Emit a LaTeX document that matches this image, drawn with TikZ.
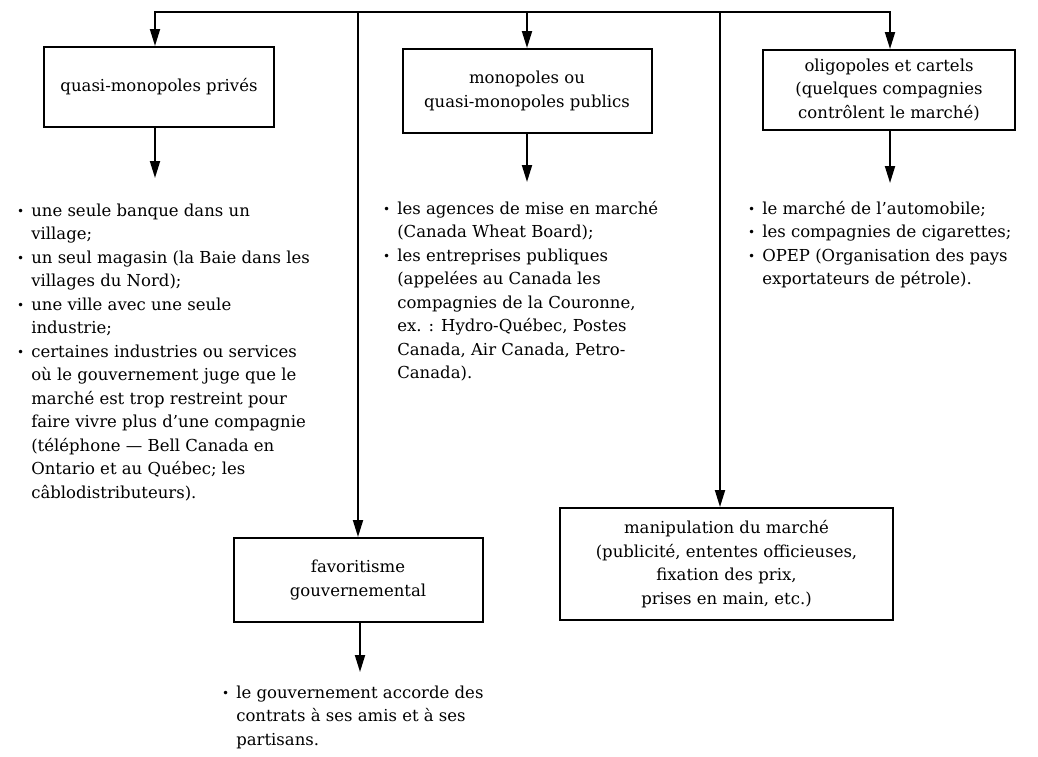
\documentclass[tikz,border=0pt]{standalone}
\usepackage{fontspec}
\setmainfont{DejaVu Serif}
\usetikzlibrary{arrows.meta}
\newcommand\fsz{\fontsize{16.5}{23.5}\selectfont}
\newcommand\bl{\raisebox{0.6pt}{\fontsize{12}{12}\selectfont\textbullet}}
\begin{document}
\begin{tikzpicture}[x=1pt,y=-1pt,
  box/.style={draw, line width=2pt, inner sep=0pt, align=center, font=\fsz},
  conn/.style={line width=1.9pt},
  tip/.style={-{Triangle[length=17pt,width=10pt]}},
  arr/.style={conn, tip},
  blist/.style={inner sep=0pt, anchor=base west, font=\fsz}]
\useasboundingbox (0,0) rectangle (1038,756);

% boxes
\node[box, minimum width=230pt, minimum height=80pt] (b1) at (159,87) {quasi-monopoles privés};
\node[box, minimum width=249pt, minimum height=84pt] (b2) at (527,91) {monopoles ou\\quasi-monopoles publics};
\node[box, minimum width=252pt, minimum height=80pt] (b3) at (889,90) {oligopoles et cartels\\(quelques compagnies\\contrôlent le marché)};
\node[box, minimum width=249pt, minimum height=84pt] (b4) at (358,580) {favoritisme\\gouvernemental};
\node[box, minimum width=333pt, minimum height=112pt] (b5) at (726.5,564) {manipulation du marché\\(publicité, ententes officieuses,\\fixation des prix,\\prises en main, etc.)};

% top distribution line
\coordinate (c1) at (155,12);
\coordinate (c2) at (358,12);
\coordinate (c3) at (527,12);
\coordinate (c4) at (720,12);
\coordinate (c5) at (890,12);
\draw[conn, line join=miter, {Triangle[length=17pt,width=10pt]}-{Triangle[length=17pt,width=10pt]}]
  (c1 |- b1.north) -- (c1) -- (c5) -- (c5 |- b3.north);
\draw[arr] (c3) -- (c3 |- b2.north);
\draw[arr] (c2) -- (c2 |- b4.north);
\draw[arr] (c4) -- (c4 |- b5.north);

% arrows below boxes
\coordinate (e1) at (155,178);
\coordinate (e2) at (527,182);
\coordinate (e3) at (890,183);
\coordinate (e4) at (360,672);
\draw[arr] (b1.south -| e1) -- (e1);
\draw[arr] (b2.south -| e2) -- (e2);
\draw[arr] (b3.south -| e3) -- (e3);
\draw[arr] (b4.south -| e4) -- (e4);

% lists
\node[blist] (l1) at (17,216) {\begin{tabular}[t]{@{}l@{\hspace{7pt}}l@{}}
\bl & une seule banque dans un\\
    & village;\\
\bl & un seul magasin (la Baie dans les\\
    & villages du Nord);\\
\bl & une ville avec une seule\\
    & industrie;\\
\bl & certaines industries ou services\\
    & où le gouvernement juge que le\\
    & marché est trop restreint pour\\
    & faire vivre plus d'une compagnie\\
    & (téléphone — Bell Canada en\\
    & Ontario et au Québec; les\\
    & câblodistributeurs).
\end{tabular}};

\node[blist] (l2) at (383,214) {\begin{tabular}[t]{@{}l@{\hspace{7pt}}l@{}}
\bl & les agences de mise en marché\\
    & (Canada Wheat Board);\\
\bl & les entreprises publiques\\
    & (appelées au Canada les\\
    & compagnies de la Couronne,\\
    & ex. : Hydro-Québec, Postes\\
    & Canada, Air Canada, Petro-\\
    & Canada).
\end{tabular}};

\node[blist] (l3) at (748,214) {\begin{tabular}[t]{@{}l@{\hspace{7pt}}l@{}}
\bl & le marché de l'automobile;\\
\bl & les compagnies de cigarettes;\\
\bl & OPEP (Organisation des pays\\
    & exportateurs de pétrole).
\end{tabular}};

\node[blist] (l4) at (222,698) {\begin{tabular}[t]{@{}l@{\hspace{7pt}}l@{}}
\bl & le gouvernement accorde des\\
    & contrats à ses amis et à ses\\
    & partisans.
\end{tabular}};
\end{tikzpicture}
\end{document}
